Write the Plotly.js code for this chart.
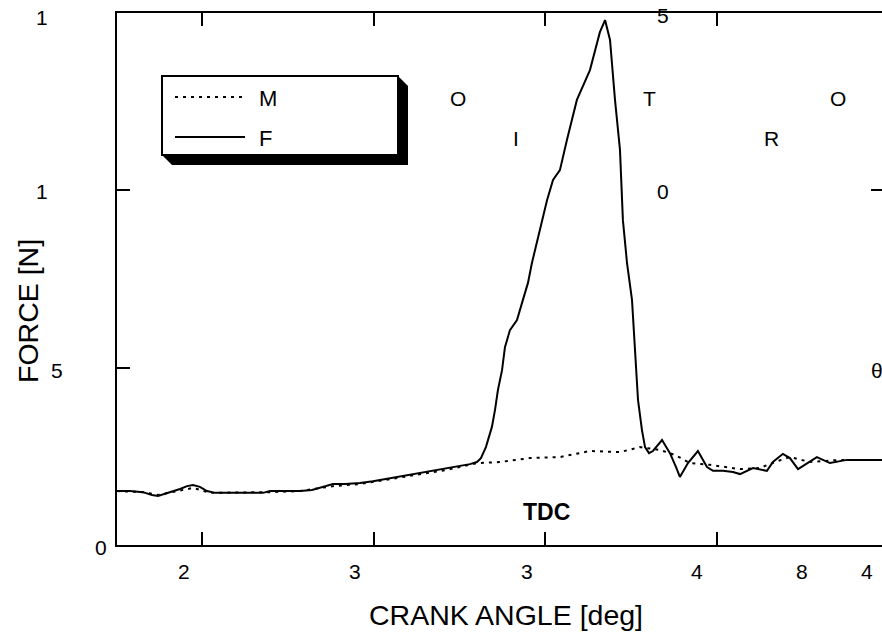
<!DOCTYPE html>
<html><head><meta charset="utf-8">
<script src="https://cdn.plot.ly/plotly-3.0.1.min.js"></script>
<style>html,body{margin:0;padding:0;overflow:hidden;background:#fff}</style>
</head><body><div id="chart" style="width:890px;height:638px"></div>
<script>
// ---- data ----
const seriesNames = ["M", "F"];
const fAngle = [335.05,335.81,336.56,337.09,337.44,337.84,338.25,338.72,339.13,339.48,
  339.88,340.29,340.76,341.63,342.21,342.80,343.55,343.96,344.83,345.71,
  346.41,346.87,347.63,348.33,349.20,349.96,350.66,351.36,352.00,352.70,
  353.46,354.16,355.03,355.61,356.02,356.25,356.54,356.89,357.07,357.24,
  357.48,357.65,357.94,358.35,358.64,358.99,359.22,359.51,359.81,360.10,
  360.45,360.85,361.26,361.84,362.60,363.18,363.48,363.77,364.06,364.35,
  364.52,364.76,365.05,365.22,365.40,365.63,365.81,366.04,366.27,366.80,
  367.26,367.61,367.84,368.31,368.89,369.42,369.77,370.35,370.93,371.34,
  372.10,372.91,373.26,373.84,374.25,374.72,375.24,375.82,376.58,377.57,
  378.62,379.73];
const fForce = [152,152,149,141,138,144,152,158,166,169,
  164,152,147,147,149,147,147,152,152,152,
  155,161,172,172,175,180,186,192,197,203,
  209,214,223,228,234,245,276,333,381,437,
  493,558,606,634,682,739,795,851,916,972,
  1029,1057,1142,1255,1339,1446,1480,1424,1255,1114,
  916,795,691,558,409,324,276,259,265,296,
  259,220,192,231,265,220,209,209,206,200,
  217,209,234,257,245,214,231,248,231,240,
  240,240];
const mAngle = [335.05,336.56,337.44,338.25,339.48,340.47,342.21,343.96,345.71,347.63,
  349.20,351.36,352.70,354.16,356.02,357.36,359.11,360.85,362.60,364.35,
  365.51,366.68,367.55,368.43,369.59,371.34,372.50,373.38,374.25,375.42,
  377.16,379.73];
const mForce = [152,149,141,149,161,147,147,149,152,166,
  172,189,200,211,231,234,245,248,265,262,
  276,268,254,231,226,214,217,234,248,234,
  240,240];
const xTickVals = [340, 350, 360, 370];
const yTickVals = [500, 1000];
const yRightTickVals = [1000];
const xRange = [335.05, 379.73];
const yRange = [0, 1500];
const xTickLabels = ["2", "3", "3", "4", "8", "4"];
const yTickLabels = ["1", "1", "5", "0"];
const strayLabels = ["O", "I", "T", "O", "R", "0", "5", "θ"];
const eventLabel = "TDC";
const xTitle = "CRANK ANGLE [deg]";
const yTitle = "FORCE [N]";

// ---- geometry (pixels) ----
const L = 117, T = 13, R = 884, B = 545, W = 890, H = 638;
const px = x => (x - L) / (R - L);
const py = y => (B - y) / (B - T);
const xTickLabelPos = [184, 355, 527, 697, 802, 867];
const xTickLabelY = 571;
const yTickLabelPos = [[42, 17], [42, 192], [57, 371], [101, 547]];
const strayPos = [[458, 99], [516, 138], [649, 99], [838, 99], [771, 139], [663, 192], [663, 16], [877, 370]];

const FONT = "Liberation Sans, Arial, sans-serif";
const ann = [];
function addText(text, x, y, size, extra) {
  ann.push(Object.assign({xref: "paper", yref: "paper", x: px(x), y: py(y),
    xanchor: "center", yanchor: "middle", showarrow: false, text: text,
    font: {family: FONT, size: size, color: "#000"}}, extra || {}));
}
xTickLabels.forEach((t, i) => addText(t, xTickLabelPos[i], xTickLabelY, 21));
yTickLabels.forEach((t, i) => addText(t, yTickLabelPos[i][0], yTickLabelPos[i][1], 21));
strayLabels.forEach((t, i) => addText(t, strayPos[i][0], strayPos[i][1], 21));
addText("<b>" + eventLabel + "</b>", 546, 512, 23);
addText(xTitle, 506, 615, 28.5);
addText(yTitle, 28, 311, 28.5, {textangle: -90});
// legend labels
addText(seriesNames[0], 257, 99, 22, {xanchor: "left"});
addText(seriesNames[1], 257, 138, 22, {xanchor: "left"});

const shapes = [
  {type: "path", xref: "paper", yref: "paper",
   path: `M ${px(162)},${py(155)} L ${px(172)},${py(165)} L ${px(408)},${py(165)} L ${px(408)},${py(86)} L ${px(398)},${py(76)} Z`,
   fillcolor: "#000", line: {width: 0}},
  {type: "rect", xref: "paper", yref: "paper", x0: px(162), x1: px(398), y0: py(155), y1: py(76),
   fillcolor: "#fff", line: {color: "#000", width: 2}},
  {type: "line", xref: "paper", yref: "paper", x0: px(175), x1: px(247), y0: py(97), y1: py(97),
   line: {color: "#000", width: 2, dash: "3px,5px"}},
  {type: "line", xref: "paper", yref: "paper", x0: px(175), x1: px(245), y0: py(137), y1: py(137),
   line: {color: "#000", width: 2}}
];

const traces = [
  {x: mAngle, y: mForce, name: seriesNames[0], type: "scatter", mode: "lines",
   line: {color: "#000", width: 2, dash: "3px,5px"}, showlegend: false},
  {x: fAngle, y: fForce, name: seriesNames[1], type: "scatter", mode: "lines",
   line: {color: "#000", width: 2}, showlegend: false},
  {x: [], y: [], yaxis: "y2", type: "scatter", mode: "lines", showlegend: false}
];

const axisCommon = {ticks: "inside", ticklen: 13, tickwidth: 2, tickcolor: "#000",
  showticklabels: false, showgrid: false, zeroline: false, fixedrange: true};

const layout = {
  width: W, height: H,
  margin: {l: L, r: W - R, t: T, b: H - B, pad: 0},
  paper_bgcolor: "#fff", plot_bgcolor: "#fff",
  showlegend: false,
  font: {family: FONT, color: "#000"},
  xaxis: Object.assign({range: xRange, tickvals: xTickVals, showline: true, linewidth: 2,
    linecolor: "#000", mirror: "ticks"}, axisCommon),
  yaxis: Object.assign({range: yRange, tickvals: yTickVals, showline: true, linewidth: 2,
    linecolor: "#000", mirror: true}, axisCommon),
  yaxis2: Object.assign({range: yRange, tickvals: yRightTickVals, overlaying: "y", side: "right",
    anchor: "x", showline: false}, axisCommon),
  shapes: shapes,
  annotations: ann
};

Plotly.newPlot("chart", traces, layout, {staticPlot: true, displayModeBar: false});
</script>
</body></html>
